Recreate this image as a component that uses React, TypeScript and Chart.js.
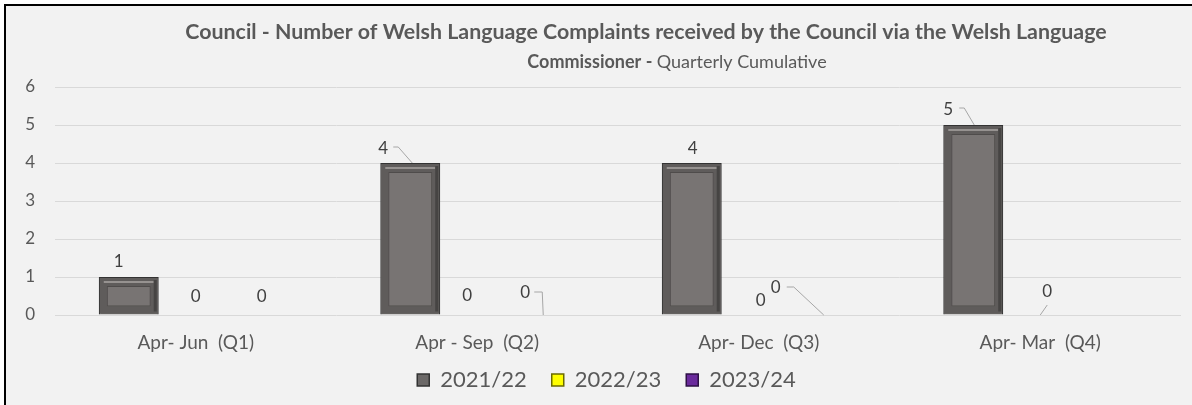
import React, { useEffect, useRef } from "react";
import { Chart, registerables } from "chart.js";

Chart.register(...registerables);

const categories = ["Apr- Jun  (Q1)", "Apr - Sep  (Q2)", "Apr- Dec  (Q3)", "Apr- Mar  (Q4)"];
const seriesNames = ["2021/22", "2022/23", "2023/24"];
const values2122 = [1, 4, 4, 5];
const values2223 = [0, 0, 0, 0];
const values2324: (number | null)[] = [0, 0, 0, null];
const yTicks = [0, 1, 2, 3, 4, 5, 6];
const titleLine1 = "Council - Number of Welsh Language Complaints received by the Council via the Welsh Language";
const titleLine2Bold = "Commissioner - ";
const titleLine2Normal = "Quarterly Cumulative";

const TEXT = "#595959";
const FONT = "Lato, 'Open Sans', sans-serif";

// label placement relative to bar top centre: [dx, dy, leader points]
const labelPlacement: Record<string, { dx: number; dy: number; leader?: number[][] }> = {
  "0-0": { dx: -10, dy: -15 },
  "0-1": { dx: -27, dy: -14, leader: [[-17, -16], [-12, -16], [2, 0]] },
  "0-2": { dx: 1, dy: -14 },
  "0-3": { dx: -25, dy: -15, leader: [[-14, -17], [-9, -17], [1, 0]] },
  "1-0": { dx: 0, dy: -18 },
  "1-1": { dx: -10, dy: -19 },
  "1-2": { dx: 2, dy: -14 },
  "1-3": { dx: 7, dy: -23, leader: [[7, -10], [0, 0]] },
  "2-0": { dx: -1, dy: -18 },
  "2-1": { dx: -19, dy: -22, leader: [[-10, -23], [-2, -23], [-1, 0]] },
  "2-2": { dx: -50, dy: -27, leader: [[-39, -28], [-32, -28], [-2, 0]] },
};

const titlePlugin = {
  id: "customTitle",
  afterDraw(chart: any) {
    const ctx = chart.ctx;
    ctx.save();
    ctx.fillStyle = TEXT;
    ctx.textBaseline = "middle";
    ctx.textAlign = "left";
    ctx.font = `bold 20px ${FONT}`;
    const base = ctx.measureText(titleLine1).width;
    const size1 = (20 * 922) / base;
    ctx.font = `bold ${size1}px ${FONT}`;
    const w1 = ctx.measureText(titleLine1).width;
    ctx.fillText(titleLine1, 646 - w1 / 2, 32);
    const boldFont = `bold 18px ${FONT}`;
    const normFont = `18px ${FONT}`;
    ctx.font = boldFont;
    const wb = ctx.measureText(titleLine2Bold).width;
    ctx.font = normFont;
    const wn = ctx.measureText(titleLine2Normal).width;
    const start = 677 - (wb + wn) / 2;
    ctx.font = boldFont;
    ctx.fillText(titleLine2Bold, start, 62);
    ctx.font = normFont;
    ctx.fillText(titleLine2Normal, start + wb, 62);
    ctx.restore();
  },
};

// widen the x-axis label area (avoids clipping) and nudge legend centre
const layoutTweakPlugin = {
  id: "layoutTweak",
  afterLayout(chart: any) {
    const x = chart.scales.x;
    if (x) {
      x.bottom += 20;
      x.height += 20;
    }
    if (chart.legend) {
      chart.legend.left += 6;
      chart.legend.right += 6;
    }
  },
};

const bevelPlugin = {
  id: "bevel",
  afterDatasetsDraw(chart: any) {
    const ctx = chart.ctx;
    const meta = chart.getDatasetMeta(0);
    ctx.save();
    meta.data.forEach((el: any) => {
      const p = el.getProps(["x", "y", "base", "width"], true);
      const h = p.base - p.y;
      if (h <= 2) return;
      const l = p.x - p.width / 2;
      const r = p.x + p.width / 2;
      const t = p.y;
      const b = p.base;
      ctx.fillStyle = "#5f5c5b";
      ctx.fillRect(l + 1, t + 1, r - l - 2, b - t - 2);
      ctx.strokeStyle = "#a8a4a2";
      ctx.lineWidth = 1.5;
      ctx.beginPath();
      ctx.moveTo(l + 5, t + 5);
      ctx.lineTo(r - 5, t + 5);
      ctx.stroke();
      ctx.fillStyle = "#464443";
      ctx.fillRect(r - 5, t + 3, 3, b - t - 6);
      ctx.fillStyle = "#787473";
      ctx.fillRect(l + 8, t + 9, r - l - 16, b - t - 17);
      ctx.strokeStyle = "#4f4c4b";
      ctx.lineWidth = 1;
      ctx.strokeRect(l + 8.5, t + 9.5, r - l - 17, b - t - 18);
    });
    ctx.restore();
  },
};

const labelsPlugin = {
  id: "valueLabels",
  afterDatasetsDraw(chart: any) {
    const ctx = chart.ctx;
    ctx.save();
    ctx.font = `17px ${FONT}`;
    ctx.fillStyle = "#404040";
    ctx.textAlign = "center";
    ctx.textBaseline = "middle";
    chart.data.datasets.forEach((ds: any, di: number) => {
      const meta = chart.getDatasetMeta(di);
      meta.data.forEach((el: any, i: number) => {
        const v = ds.data[i];
        if (v === null || v === undefined) return;
        const p = el.getProps(["x", "y"], true);
        const pl = labelPlacement[`${di}-${i}`] || { dx: 0, dy: -14 };
        if (pl.leader) {
          ctx.strokeStyle = "#a6a6a6";
          ctx.lineWidth = 1;
          ctx.beginPath();
          pl.leader.forEach((pt, k) => {
            if (k === 0) ctx.moveTo(p.x + pt[0], p.y + pt[1]);
            else ctx.lineTo(p.x + pt[0], p.y + pt[1]);
          });
          ctx.stroke();
        }
        ctx.fillText(String(v), p.x + pl.dx, p.y + pl.dy);
      });
    });
    ctx.restore();
  },
};

export default function App() {
  const ref = useRef<HTMLCanvasElement | null>(null);
  useEffect(() => {
    if (!ref.current) return;
    const chart = new Chart(ref.current, {
      type: "bar",
      data: {
        labels: categories,
        datasets: [
          {
            label: seriesNames[0],
            data: values2122,
            backgroundColor: "#6b6867",
            borderColor: "#333333",
            borderWidth: 1.5,
          },
          {
            label: seriesNames[1],
            data: values2223,
            backgroundColor: "#ffff00",
            borderColor: "#6b6b00",
            borderWidth: 1.5,
          },
          {
            label: seriesNames[2],
            data: values2324,
            backgroundColor: "#6a2a9c",
            borderColor: "#2e1045",
            borderWidth: 1.5,
          },
        ],
      },
      options: {
        animation: false,
        responsive: false,
        maintainAspectRatio: false,
        layout: { padding: { top: 87, left: 20, right: 11, bottom: 4 } },
        datasets: { bar: { categoryPercentage: 0.714, barPercentage: 0.895 } },
        plugins: {
          title: { display: false },
          tooltip: { enabled: false },
          legend: {
            position: "bottom",
            labels: {
              boxWidth: 12,
              boxHeight: 12,
              padding: 25,
              color: TEXT,
              font: { family: FONT, size: 22 },
            },
          },
        },
        scales: {
          x: {
            grid: { display: false },
            border: { display: false },
            ticks: { color: TEXT, font: { family: FONT, size: 19 }, padding: 8, maxRotation: 0 },
            afterFit: (s: any) => {
              s.height = 29;
            },
          },
          y: {
            min: 0,
            max: 6,
            afterBuildTicks: (s: any) => {
              s.ticks = yTicks.map((v) => ({ value: v }));
            },
            grid: { color: "#d9d9d9", drawTicks: false, lineWidth: 1 },
            border: { display: false },
            ticks: { color: TEXT, font: { family: FONT, size: 17 }, padding: 20 },
            afterFit: (s: any) => {
              s.width = 35;
            },
          },
        },
      },
      plugins: [layoutTweakPlugin, bevelPlugin, labelsPlugin, titlePlugin],
    });
    return () => chart.destroy();
  }, []);

  return (
    <div style={{ position: "fixed", left: 0, top: 0, width: 1192, height: 405, background: "#ffffff", overflow: "hidden" }}>
      <div
        style={{
          position: "absolute",
          left: 4,
          top: 4,
          width: 1200,
          height: 420,
          borderTop: "2px solid #000",
          borderLeft: "2px solid #000",
          background: "#f2f2f2",
        }}
      />
      <canvas ref={ref} width={1192} height={405} style={{ position: "absolute", left: 0, top: 0, width: 1192, height: 405 }} />
    </div>
  );
}
